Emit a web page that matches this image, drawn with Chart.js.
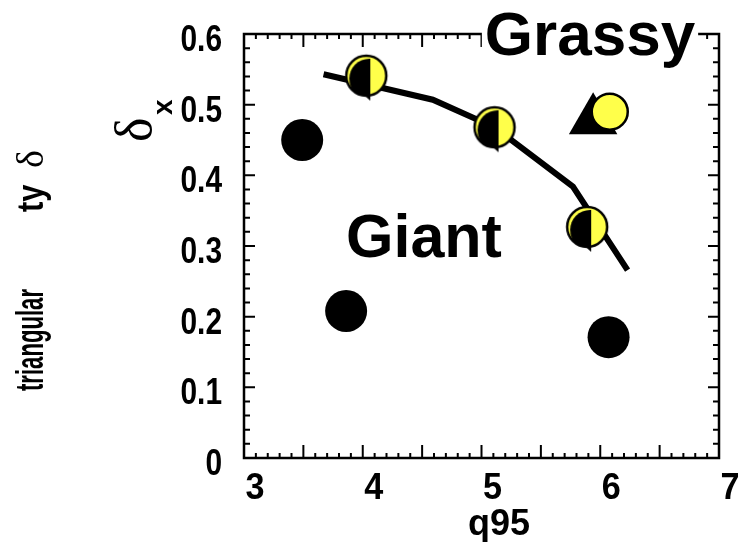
<!DOCTYPE html>
<html>
<head>
<meta charset="utf-8">
<script src="https://cdn.jsdelivr.net/npm/chart.js@4"></script>
<style>
  html, body { margin: 0; padding: 0; background: #fff; overflow: hidden; }
  #wrap { width: 747px; height: 542px; }
  #chart { display: block; }
</style>
</head>
<body>
<div id="wrap"><canvas id="chart" width="747" height="542"></canvas></div>
<script>
// ── data ──
const xTicks = [3, 4, 5, 6, 7];
const yTicks = [0, 0.1, 0.2, 0.3, 0.4, 0.5, 0.6];

// fitted curve (thick black line)
const fitQ95   = [3.67, 4.59, 5.11, 5.77, 6.23];
const fitDelta = [0.543, 0.507, 0.468, 0.384, 0.266];

// "Giant" points (black discs)
const giantQ95   = [3.49, 3.86, 6.07];
const giantDelta = [0.450, 0.208, 0.171];

// half black / half yellow points on the curve
const mixedQ95   = [4.03, 5.11, 5.89];
const mixedDelta = [0.541, 0.468, 0.327];

// "Grassy" point: black triangle + yellow disc
const grassyTriQ95   = [5.94];
const grassyTriDelta = [0.478];
const grassyQ95   = [6.08];
const grassyDelta = [0.490];

const YELLOW = '#ffff4a';
const SANS = "'Liberation Sans', Arial, sans-serif";
const SERIF = "'Liberation Serif', 'Times New Roman', serif";

const pts = (xs, ys) => xs.map((x, i) => ({ x, y: ys[i] }));

// yellow disc with left half black and a small black spike below
function makeHalfMarker(r) {
  const size = 60;
  const c = document.createElement('canvas');
  c.width = size; c.height = size;
  const g = c.getContext('2d');
  const cx = size / 2, cy = size / 2;
  g.fillStyle = '#000';
  g.beginPath();
  g.moveTo(cx - 8, cy + 14);
  g.lineTo(cx + 4, cy + 14);
  g.lineTo(cx + 4, cy + r + 5);
  g.closePath();
  g.fill();
  g.beginPath();
  g.arc(cx, cy, r, 0, Math.PI * 2);
  g.fillStyle = YELLOW;
  g.fill();
  g.save();
  g.clip();
  g.beginPath();
  g.rect(0, 0, cx + 4, size);
  g.clip();
  g.beginPath();
  g.arc(cx + 3, cy + 3, r, 0, Math.PI * 2);
  g.fillStyle = '#000';
  g.fill();
  g.restore();
  g.beginPath();
  g.arc(cx, cy, r, 0, Math.PI * 2);
  g.lineWidth = 2.5;
  g.strokeStyle = '#000';
  g.stroke();
  return c;
}
const halfMarker = makeHalfMarker(20);

// condensed text helper (the original labels are narrow and tall)
function squeezed(ctx, text, x, y, sx) {
  ctx.save();
  ctx.translate(x, y);
  ctx.scale(sx, 1);
  ctx.fillText(text, 0, 0);
  ctx.restore();
}

// frame with inward ticks on all four sides, tick labels, annotations
const framePlugin = {
  id: 'frame',
  beforeDatasetsDraw(chart) {
    const { ctx, chartArea: a, scales: { x, y } } = chart;
    ctx.save();
    ctx.strokeStyle = '#000';
    ctx.lineWidth = 2;
    ctx.beginPath();
    for (let i = 30; i <= 70; i++) {
      const px = x.getPixelForValue(i / 10);
      const len = i % 5 === 0 ? 13 : 5;
      ctx.moveTo(px, a.bottom); ctx.lineTo(px, a.bottom - len);
      ctx.moveTo(px, a.top); ctx.lineTo(px, a.top + len);
    }
    for (let j = 0; j <= 30; j++) {
      const py = y.getPixelForValue(j / 50);
      const len = j % 5 === 0 ? 11 : 6;
      ctx.moveTo(a.left, py); ctx.lineTo(a.left + len, py);
      ctx.moveTo(a.right, py); ctx.lineTo(a.right - len, py);
    }
    ctx.stroke();
    ctx.lineWidth = 2.5;
    ctx.strokeRect(a.left, a.top, a.right - a.left, a.bottom - a.top);

    // tick labels
    ctx.fillStyle = '#000';
    ctx.font = `bold 36px ${SANS}`;
    ctx.textBaseline = 'alphabetic';
    ctx.textAlign = 'center';
    xTicks.forEach(v => {
      squeezed(ctx, String(v), x.getPixelForValue(v) + 11, a.bottom + 41, 0.95);
    });
    ctx.textAlign = 'right';
    yTicks.forEach(v => {
      squeezed(ctx, String(v), a.left - 22, y.getPixelForValue(v) + 17, 0.83);
    });
    ctx.restore();
  },
  afterDatasetsDraw(chart) {
    const { ctx } = chart;
    ctx.save();
    ctx.fillStyle = '#000';
    ctx.textAlign = 'left';
    ctx.textBaseline = 'alphabetic';

    // Grassy label over the top border
    ctx.font = `bold 62px ${SANS}`;
    const gw = ctx.measureText('Grassy').width;
    ctx.fillStyle = '#fff';
    ctx.fillRect(590 - gw / 2 - 3, 14, gw + 6, 38);
    ctx.fillStyle = '#000';
    ctx.fillText('Grassy', 590 - gw / 2, 55);

    ctx.font = `bold 61px ${SANS}`;
    ctx.fillText('Giant', 346, 257);

    // x axis title
    ctx.font = `bold 36px ${SANS}`;
    ctx.textAlign = 'center';
    ctx.fillText('q95', 499, 535);
    ctx.textAlign = 'left';

    // y axis title δx
    ctx.save();
    ctx.translate(151, 142);
    ctx.rotate(-Math.PI / 2);
    ctx.font = `52px ${SERIF}`;
    ctx.fillText('δ', 0, 0);
    ctx.font = `bold 28px ${SANS}`;
    ctx.fillText('x', 27, 21);
    ctx.restore();

    // leftover label fragments at the far left
    ctx.save();
    ctx.translate(43, 212);
    ctx.rotate(-Math.PI / 2);
    ctx.font = `bold 36px ${SANS}`;
    ctx.fillText('ty ', 0, 0, 36);
    ctx.font = `38px ${SERIF}`;
    ctx.fillText('δ', 44, 0);
    ctx.restore();

    ctx.save();
    ctx.translate(43, 391);
    ctx.rotate(-Math.PI / 2);
    ctx.font = `bold 38px ${SANS}`;
    ctx.fillText('triangular', 0, 0, 102);
    ctx.restore();

    ctx.restore();
  }
};

new Chart(document.getElementById('chart'), {
  type: 'scatter',
  data: {
    datasets: [
      {
        label: 'mixed',
        data: pts(mixedQ95, mixedDelta),
        pointStyle: halfMarker,
        pointRadius: 20,
        order: 0,
      },
      {
        label: 'grassy',
        data: pts(grassyQ95, grassyDelta),
        pointStyle: 'circle',
        pointRadius: 18,
        backgroundColor: YELLOW,
        borderColor: '#000',
        borderWidth: 2.5,
        order: 1,
      },
      {
        label: 'grassy triangle',
        data: pts(grassyTriQ95, grassyTriDelta),
        pointStyle: 'triangle',
        pointRadius: 28,
        backgroundColor: '#000',
        borderColor: '#000',
        borderWidth: 0,
        order: 2,
      },
      {
        label: 'giant',
        data: pts(giantQ95, giantDelta),
        pointStyle: 'circle',
        pointRadius: 21,
        backgroundColor: '#000',
        borderColor: '#000',
        borderWidth: 0,
        order: 3,
      },
      {
        label: 'fit',
        data: pts(fitQ95, fitDelta),
        showLine: true,
        borderColor: '#000',
        borderWidth: 6,
        pointRadius: 0,
        tension: 0,
        order: 10,
      },
    ],
  },
  options: {
    responsive: false,
    animation: false,
    devicePixelRatio: 1,
    layout: { padding: { left: 0, top: 34, right: 17, bottom: 0 } },
    plugins: {
      legend: { display: false },
      tooltip: { enabled: false },
    },
    scales: {
      x: {
        type: 'linear',
        min: 3,
        max: 7,
        grid: { display: false, drawTicks: false },
        border: { display: false },
        afterBuildTicks: s => { s.ticks = xTicks.map(v => ({ value: v })); },
        afterFit: s => { s.height = 84; },
        ticks: { display: false },
      },
      y: {
        type: 'linear',
        min: 0,
        max: 0.6,
        grid: { display: false, drawTicks: false },
        border: { display: false },
        afterBuildTicks: s => { s.ticks = yTicks.map(v => ({ value: v })); },
        afterFit: s => { s.width = 244; },
        ticks: { display: false },
      },
    },
  },
  plugins: [framePlugin],
});
</script>
</body>
</html>
